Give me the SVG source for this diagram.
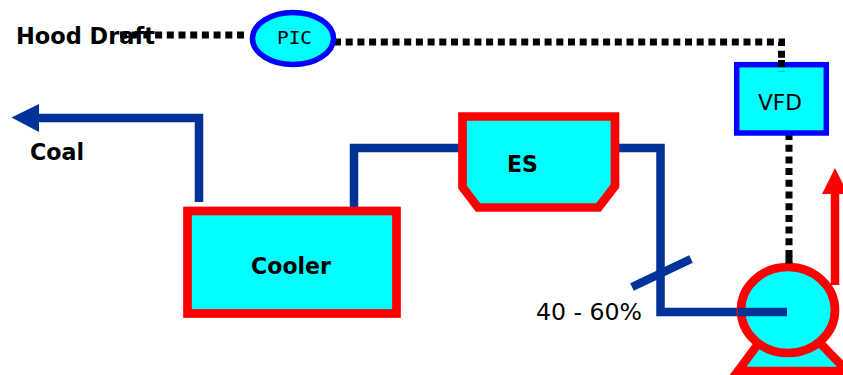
<svg xmlns="http://www.w3.org/2000/svg" width="843" height="375" viewBox="0 0 843 375">
<style>
.eq{fill:#00ffff;stroke:#ff0000;stroke-width:8.700}
.ctl{fill:#00ffff;stroke:#0000ff;stroke-width:5.500}
.pipe{fill:none;stroke:#003399;stroke-width:8.500}
.sig{fill:none;stroke:#000;stroke-width:7;stroke-dasharray:7 4.700}
.b{font-family:"DejaVu Sans",sans-serif;font-weight:bold;fill:#000;font-size:23px}
.n{font-family:"DejaVu Sans",sans-serif;fill:#000}
.m{font-family:"DejaVu Sans Mono",monospace;fill:#000}
</style>
<g id="connectors">
<path class="pipe" d="M199 202V118H28"/>
<path fill="#003399" d="M11.500 117.500L39 104V132Z"/>
<path class="pipe" d="M354 208V148H460"/>
<path class="pipe" d="M618 148H660.500V312H787"/>
<path class="pipe" d="M632 287L691 259"/>
<path fill="none" stroke="#ff0000" stroke-width="8.500" d="M835 190V285"/>
<path fill="#ff0000" d="M835 168L822 194H848Z"/>
<path class="sig" d="M120 35H246"/>
<path class="sig" d="M334 42H781.500V72"/>
<path class="sig" d="M789 133V268"/>
</g>
<g id="pump">
<path class="eq" d="M738 371L758 344H821L847 371Z"/>
<ellipse class="eq" cx="788" cy="310" rx="47" ry="43"/>
<path class="pipe" d="M738 312H787"/>
<path class="sig" d="M789 256.500V268"/>
</g>
<g id="cooler">
<rect class="eq" x="187.500" y="211" width="209" height="102.500"/>
<text class="b" x="251" y="274" textLength="80" lengthAdjust="spacingAndGlyphs">Cooler</text>
</g>
<g id="es">
<path class="eq" d="M462.500 116.500H615V186L598.500 207.500H478L462.500 187Z"/>
<text class="b" x="507" y="172" textLength="31" lengthAdjust="spacingAndGlyphs">ES</text>
</g>
<g id="vfd">
<rect class="ctl" x="736.700" y="64.700" width="89.600" height="68.300"/>
<path class="sig" d="M781.500 60V72"/>
<text class="n" x="758" y="110" font-size="21" textLength="44" lengthAdjust="spacingAndGlyphs">VFD</text>
</g>
<g id="pic">
<ellipse class="ctl" cx="293" cy="38.500" rx="40.500" ry="26"/>
<text class="m" x="277" y="44" font-size="17" textLength="35" lengthAdjust="spacingAndGlyphs">PIC</text>
</g>
<text class="b" x="16" y="44" textLength="139" lengthAdjust="spacingAndGlyphs">Hood Draft</text>
<text class="b" x="30" y="160" textLength="54" lengthAdjust="spacingAndGlyphs">Coal</text>
<text class="n" x="536" y="320" font-size="23" textLength="106" lengthAdjust="spacingAndGlyphs">40 - 60%</text>
</svg>
